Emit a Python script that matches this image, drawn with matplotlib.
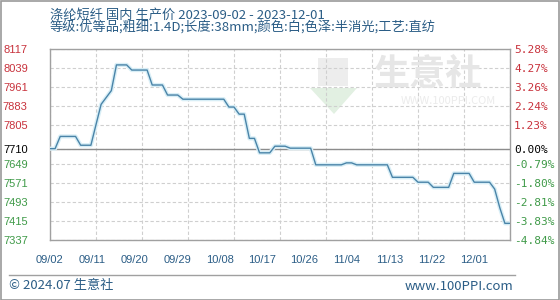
import matplotlib
matplotlib.use('Agg')
import matplotlib.pyplot as plt
from matplotlib.patches import Rectangle, Polygon
from matplotlib.lines import Line2D

plt.rcParams['font.family'] = ['Noto Sans CJK SC', 'DejaVu Sans']

# daily price, 2023-09-02 .. 2023-12-01 (day index 0..90)
prices = [7710, 7710, 7760, 7760, 7760, 7760, 7724, 7724, 7724, 7808,
          7891, 7919, 7947, 8052, 8052, 8052, 8031, 8031, 8031, 8031,
          7970, 7970, 7970, 7929, 7929, 7929, 7912, 7912, 7912, 7912,
          7912, 7912, 7912, 7912, 7912, 7880, 7880, 7851, 7851, 7752,
          7752, 7693, 7693, 7693, 7720, 7720, 7720, 7712, 7712, 7712,
          7712, 7712, 7644, 7644, 7644, 7644, 7644, 7644, 7652, 7652,
          7644, 7644, 7644, 7644, 7644, 7644, 7644, 7593, 7593, 7593,
          7593, 7593, 7573, 7573, 7573, 7552, 7552, 7552, 7552, 7609,
          7609, 7609, 7609, 7573, 7573, 7573, 7573, 7545, 7469, 7405,
          7405]
days = list(range(len(prices)))

x_tick_days = [0, 9, 18, 27, 36, 45, 54, 63, 72, 81, 90]
x_tick_labels = ['09/02', '09/11', '09/20', '09/29', '10/08', '10/17',
                 '10/26', '11/04', '11/13', '11/22', '12/01']

base = 7710
y_ticks = [8117, 8039, 7961, 7883, 7805, 7710, 7649, 7571, 7493, 7415, 7337]
pct_labels = ['5.28%', '4.27%', '3.26%', '2.24%', '1.23%', '0.00%',
              '-0.79%', '-1.80%', '-2.81%', '-3.83%', '-4.84%']

title = '涤纶短纤 国内 生产价 2023-09-02 - 2023-12-01'
subtitle = '等级:优等品;粗细:1.4D;长度:38mm;颜色:白;色泽:半消光;工艺:直纺'

red = '#c8323c'
green = '#3f9a48'
blue_txt = '#2b5d86'

W, H = 560, 300
fig = plt.figure(figsize=(5.6, 3.0), dpi=100)

# faint logo watermark behind the plot
fig.add_artist(Rectangle((318 / W, 1 - 86 / H), 30 / W, 28 / H,
                         facecolor='#ededed', edgecolor='none', zorder=0,
                         transform=fig.transFigure))
fig.add_artist(Polygon([(310 / W, 1 - 88 / H), (357 / W, 1 - 88 / H),
                        (334 / W, 1 - 114 / H)], closed=True,
                       facecolor='#e2f0e2', edgecolor='none', zorder=0,
                       transform=fig.transFigure))
fig.text(428 / W, 1 - 75 / H, '生意社', fontsize=26, color='#e6e6e6',
         ha='center', va='center', fontweight='bold', zorder=0)
fig.text(448 / W, 1 - 101 / H, 'WWW.100PPI.COM', fontsize=8, color='#ebebeb',
         ha='center', va='center', zorder=0)

ax = fig.add_axes([50 / W, 1 - 240 / H, 460 / W, 191 / H])
ax.patch.set_alpha(0)

ax.plot(days, prices, color='#d8eef6', lw=3.0, solid_joinstyle='round', zorder=3)
ax.plot(days, prices, color='#4a84a8', lw=1.0, zorder=4)
ax.axhline(base, color='#8c8c8c', lw=1.0, zorder=2)

ax.set_xlim(0, 90)
ax.set_ylim(y_ticks[-1], y_ticks[0])

ax.set_xticks(x_tick_days)
ax.set_xticklabels([''] * len(x_tick_days))
ax.set_yticks(y_ticks)
ax.set_yticklabels([str(v) for v in y_ticks], fontsize=8,
                   family=['Liberation Sans'])
ax.tick_params(axis='both', length=0)
ax.tick_params(axis='y', pad=16)
ax.grid(True, color='#cfcfcf', ls=(0, (3, 2)), lw=0.8)
for s in ax.spines.values():
    s.set_color('#a0a0a0')
    s.set_linewidth(1.0)

def ycol(v):
    if v > base:
        return red
    if v < base:
        return green
    return 'black'

for lbl, v in zip(ax.get_yticklabels(), y_ticks):
    lbl.set_color(ycol(v))

# right axis in percent of the base price
ax2 = ax.twinx()
ax2.set_ylim(ax.get_ylim())
ax2.set_yticks(y_ticks)
ax2.set_yticklabels(pct_labels, fontsize=8, family=['DejaVu Sans Mono'])
ax2.tick_params(axis='y', length=0, pad=3)
for s in ax2.spines.values():
    s.set_visible(False)
for lbl, v in zip(ax2.get_yticklabels(), y_ticks):
    lbl.set_color(ycol(v))

# date labels are spaced a little tighter than the grid in the original
a = 0.922
sec = ax.secondary_xaxis('bottom', functions=(lambda x: x / a,
                                              lambda s: a * s))
sec.set_xticks(x_tick_days)
sec.set_xticklabels(x_tick_labels, fontsize=8, color=blue_txt,
                    family=['Liberation Sans'])
sec.tick_params(length=0, pad=11)
sec.spines['bottom'].set_visible(False)

# header
fig.text(50 / W, 1 - 15 / H, title, fontsize=9.5, color=blue_txt,
         ha='left', va='center')
fig.text(50 / W, 1 - 28 / H, subtitle, fontsize=9.5, color=blue_txt,
         ha='left', va='center')

# footer
fig.add_artist(Line2D([9 / W, 515 / W], [1 - 275 / H, 1 - 275 / H],
                      color='#a0a0a0', lw=1.0, transform=fig.transFigure))
fig.text(9 / W, 1 - 286 / H, '© 2024.07 生意社', fontsize=9.5, color=blue_txt,
         ha='left', va='center')
fig.text(513 / W, 1 - 286 / H, 'www.100PPI.com', fontsize=9.5, color=blue_txt,
         ha='right', va='center')

fig.add_artist(Rectangle((0.5 / W, 0.5 / H), 1 - 1.5 / W, 1 - 1.5 / H,
                         fill=False, edgecolor='#9a9a9a', lw=1.2,
                         transform=fig.transFigure))

fig.savefig('out.png', dpi=100)
